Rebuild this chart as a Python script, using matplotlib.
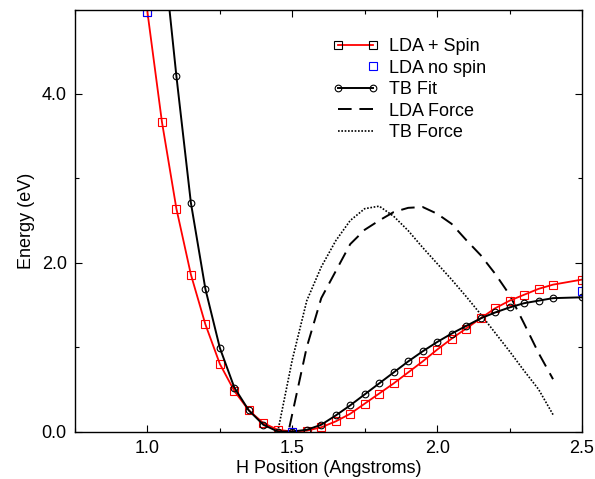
import matplotlib
matplotlib.use('Agg')
import matplotlib.pyplot as plt
from matplotlib.lines import Line2D
from matplotlib.legend_handler import HandlerLine2D
from matplotlib.ticker import MultipleLocator, FormatStrFormatter

plt.rcParams['font.family'] = ['Liberation Sans', 'DejaVu Sans']

# LDA + Spin (red squares)
x_spin = [1.0, 1.05, 1.1, 1.15, 1.2, 1.25, 1.3, 1.35, 1.4, 1.45, 1.5, 1.55, 1.6, 1.65,
          1.7, 1.75, 1.8, 1.85, 1.9, 1.95, 2.0, 2.05, 2.1, 2.15, 2.2, 2.25, 2.3, 2.35,
          2.4, 2.5]
e_spin = [4.97, 3.67, 2.64, 1.86, 1.27, 0.80, 0.48, 0.25, 0.10, 0.02, 0.0, 0.01, 0.05,
          0.12, 0.21, 0.33, 0.45, 0.57, 0.70, 0.83, 0.97, 1.10, 1.22, 1.34, 1.46, 1.55,
          1.62, 1.69, 1.74, 1.80]

# LDA no spin (blue squares)
x_nospin = [1.0, 1.5, 2.5]
e_nospin = [4.97, 0.0, 1.66]

# TB Fit (black circles)
x_tb = [1.05, 1.1, 1.15, 1.2, 1.25, 1.3, 1.35, 1.4, 1.45, 1.5, 1.55, 1.6, 1.65, 1.7,
        1.75, 1.8, 1.85, 1.9, 1.95, 2.0, 2.05, 2.1, 2.15, 2.2, 2.25, 2.3, 2.35, 2.4, 2.5]
e_tb = [5.86, 4.21, 2.71, 1.69, 0.99, 0.52, 0.25, 0.08, 0.0, 0.0, 0.02, 0.08, 0.19,
        0.31, 0.44, 0.57, 0.70, 0.83, 0.95, 1.06, 1.16, 1.25, 1.34, 1.41, 1.47, 1.52,
        1.55, 1.58, 1.59]

# LDA Force (dashed)
x_ldaf = [1.49, 1.55, 1.6, 1.65, 1.7, 1.75, 1.8, 1.85, 1.9, 1.95, 2.0, 2.05, 2.1, 2.15,
          2.2, 2.25, 2.3, 2.35, 2.4]
f_ldaf = [0.05, 1.0, 1.58, 1.9, 2.22, 2.39, 2.50, 2.60, 2.65, 2.66, 2.58, 2.46, 2.27,
          2.09, 1.87, 1.62, 1.28, 0.93, 0.62]

# TB Force (dotted)
x_tbf = [1.45, 1.5, 1.55, 1.6, 1.65, 1.7, 1.75, 1.8, 1.85, 1.9, 1.95, 2.0, 2.05, 2.1,
         2.15, 2.2, 2.25, 2.3, 2.35, 2.4]
f_tbf = [0.0, 0.85, 1.55, 1.95, 2.26, 2.50, 2.64, 2.67, 2.55, 2.38, 2.18, 1.99, 1.80,
         1.60, 1.39, 1.17, 0.95, 0.72, 0.50, 0.20]

dash = (0, (7, 4))
dots = (0, (1, 1))


# marker only at the right end of the legend line
class RightMarker(HandlerLine2D):
    def create_artists(self, *args, **kwargs):
        arts = super().create_artists(*args, **kwargs)
        for a in arts:
            a.set_markevery([1])
        return arts


fig = plt.figure(figsize=(5.95, 4.79), dpi=100)
ax = fig.add_axes([75 / 595, 1 - 431.5 / 479, 507 / 595, 422 / 479])

ax.plot(x_ldaf, f_ldaf, color='black', linestyle=dash, linewidth=1.4)
ax.plot(x_tbf, f_tbf, color='black', linestyle=dots, linewidth=1.2)
ax.plot(x_spin, e_spin, color='red', linewidth=1.3, marker='s', markersize=5.5,
        markerfacecolor='none', markeredgecolor='red', markeredgewidth=0.8)
ax.plot(x_tb, e_tb, color='black', linewidth=1.4, marker='o', markersize=4.8,
        markerfacecolor='none', markeredgecolor='black', markeredgewidth=0.8)
ax.plot(x_nospin, e_nospin, linestyle='none', marker='s', markersize=5.5,
        markerfacecolor='none', markeredgecolor='blue', markeredgewidth=0.8)

ax.set_xlim(0.75, 2.5)
ax.set_ylim(0.0, 5.0)
ax.xaxis.set_major_locator(MultipleLocator(0.5))
ax.xaxis.set_minor_locator(MultipleLocator(0.25))
ax.yaxis.set_major_locator(MultipleLocator(2.0))
ax.yaxis.set_minor_locator(MultipleLocator(1.0))
ax.xaxis.set_major_formatter(FormatStrFormatter('%.1f'))
ax.yaxis.set_major_formatter(FormatStrFormatter('%.1f'))
ax.tick_params(which='both', direction='in', top=True, right=True, labelsize=13, width=0.8)
ax.tick_params(which='major', length=5, pad=6)
ax.tick_params(which='minor', length=3)
for s in ax.spines.values():
    s.set_linewidth(1.0)

ax.set_xlabel('H Position (Angstroms)', fontsize=13, labelpad=2)
ax.set_ylabel('Energy (eV)', fontsize=13, labelpad=5)

# legend handles like the original (black markers at the ends)
h_spin = Line2D([], [], color='red', linewidth=1.3, marker='s', markersize=5.5,
                markerfacecolor='none', markeredgecolor='black', markeredgewidth=0.8)
h_nospin = Line2D([], [], linestyle='none', marker='s', markersize=5.5,
                  markerfacecolor='none', markeredgecolor='blue', markeredgewidth=0.8)
h_tb = Line2D([], [], color='black', linewidth=1.4, marker='o', markersize=4.8,
              markerfacecolor='none', markeredgecolor='black', markeredgewidth=0.8)
h_ldaf = Line2D([], [], color='black', linestyle=dash, linewidth=1.4)
h_tbf = Line2D([], [], color='black', linestyle=dots, linewidth=1.2)
handles = [h_spin, h_nospin, h_tb, h_ldaf, h_tbf]
labels = ['LDA + Spin', 'LDA no spin', 'TB Fit', 'LDA Force', 'TB Force']
ax.legend(handles, labels, loc='upper left', bbox_to_anchor=(333 / 595, 1 - 38 / 479),
          bbox_transform=fig.transFigure, frameon=False, fontsize=13, numpoints=2,
          handlelength=2.5, handletextpad=0.6, labelspacing=0.25, borderpad=0,
          borderaxespad=0, handler_map={h_nospin: RightMarker()})

plt.savefig('out.png', dpi=100)
